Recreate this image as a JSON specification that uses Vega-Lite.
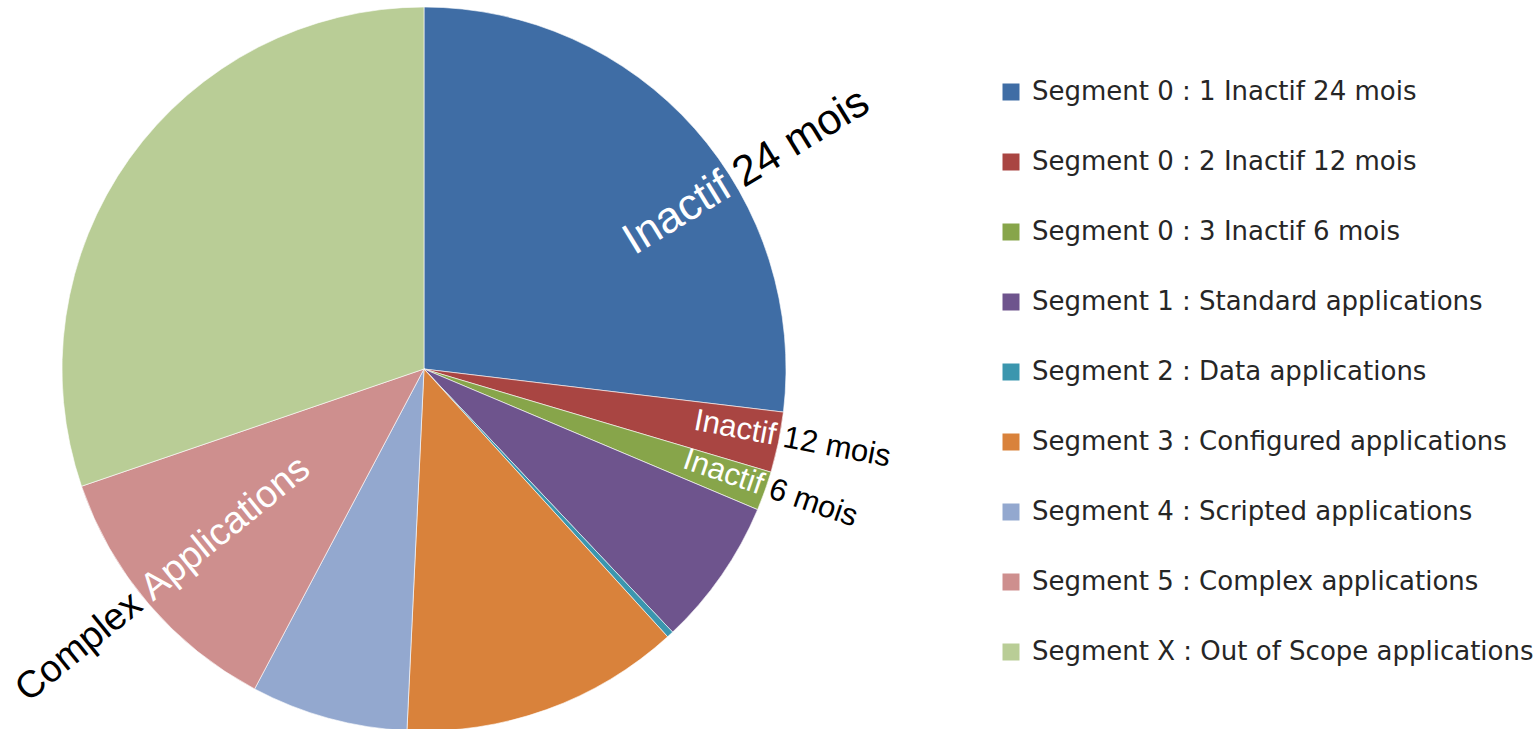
{
  "$schema": "https://vega.github.io/schema/vega-lite/v6.json",
  "width": 848,
  "height": 738,
  "padding": 0,
  "background": "white",
  "config": {"view": {"stroke": null}},
  "layer": [
    {
      "data": {"values": [
        {"segment": "Segment 0 : 1 Inactif 24 mois", "value": 26.9},
        {"segment": "Segment 0 : 2 Inactif 12 mois", "value": 2.7},
        {"segment": "Segment 0 : 3 Inactif 6 mois", "value": 1.75},
        {"segment": "Segment 1 : Standard applications", "value": 6.6},
        {"segment": "Segment 2 : Data applications", "value": 0.3},
        {"segment": "Segment 3 : Configured applications", "value": 12.5},
        {"segment": "Segment 4 : Scripted applications", "value": 7.0},
        {"segment": "Segment 5 : Complex applications", "value": 12.0},
        {"segment": "Segment X : Out of Scope applications", "value": 30.25}
      ]},
      "mark": {"type": "arc", "outerRadius": 362, "stroke": "#ffffff", "strokeWidth": 0.6},
      "encoding": {
        "theta": {"field": "value", "type": "quantitative", "stack": true, "scale": {"domain": [0, 100]}},
        "order": {"field": "segment", "type": "nominal", "sort": "ascending"},
        "color": {
          "field": "segment", "type": "nominal",
          "scale": {
            "domain": ["Segment 0 : 1 Inactif 24 mois", "Segment 0 : 2 Inactif 12 mois", "Segment 0 : 3 Inactif 6 mois", "Segment 1 : Standard applications", "Segment 2 : Data applications", "Segment 3 : Configured applications", "Segment 4 : Scripted applications", "Segment 5 : Complex applications", "Segment X : Out of Scope applications"],
            "range": ["#3F6DA5", "#A94542", "#87A54A", "#6E548D", "#3B96AE", "#D9823B", "#93A8CF", "#CE8F8E", "#B9CD96"]
          },
          "legend": {
            "title": null,
            "orient": "none",
            "legendX": 998,
            "legendY": 79,
            "symbolType": "square",
            "symbolSize": 289,
            "symbolStrokeWidth": 0,
            "labelFont": "DejaVu Sans",
            "labelFontSize": 26,
            "labelColor": "#262626",
            "labelLimit": 800,
            "labelOffset": 8,
            "rowPadding": 44
          }
        }
      }
    },
    {
      "data": {"values": [{"text": "Inactif", "pos": 16.25}]},
      "mark": {"type": "text", "radius": 356, "angle": -31.5, "align": "right", "baseline": "middle", "font": "Liberation Sans", "fontSize": 44, "color": "#ffffff"},
      "encoding": {"theta": {"field": "pos", "type": "quantitative", "stack": null}, "text": {"field": "text"}}
    },
    {
      "data": {"values": [{"text": "24 mois", "pos": 16.25}]},
      "mark": {"type": "text", "radius": 367, "angle": -31.5, "align": "left", "baseline": "middle", "font": "Liberation Sans", "fontSize": 43, "color": "#000000"},
      "encoding": {"theta": {"field": "pos", "type": "quantitative", "stack": null}, "text": {"field": "text"}}
    },
    {
      "data": {"values": [{"text": "Inactif", "pos": 28.0}]},
      "mark": {"type": "text", "radius": 358, "angle": 10.8, "align": "right", "baseline": "middle", "font": "Liberation Sans", "fontSize": 31, "color": "#ffffff"},
      "encoding": {"theta": {"field": "pos", "type": "quantitative", "stack": null}, "text": {"field": "text"}}
    },
    {
      "data": {"values": [{"text": "12 mois", "pos": 28.0}]},
      "mark": {"type": "text", "radius": 366, "angle": 10.8, "align": "left", "baseline": "middle", "font": "Liberation Sans", "fontSize": 31, "color": "#000000"},
      "encoding": {"theta": {"field": "pos", "type": "quantitative", "stack": null}, "text": {"field": "text"}}
    },
    {
      "data": {"values": [{"text": "Inactif", "pos": 30.3}]},
      "mark": {"type": "text", "radius": 358, "angle": 19, "align": "right", "baseline": "middle", "font": "Liberation Sans", "fontSize": 31, "color": "#ffffff"},
      "encoding": {"theta": {"field": "pos", "type": "quantitative", "stack": null}, "text": {"field": "text"}}
    },
    {
      "data": {"values": [{"text": "6 mois", "pos": 30.3}]},
      "mark": {"type": "text", "radius": 366, "angle": 19, "align": "left", "baseline": "middle", "font": "Liberation Sans", "fontSize": 31, "color": "#000000"},
      "encoding": {"theta": {"field": "pos", "type": "quantitative", "stack": null}, "text": {"field": "text"}}
    },
    {
      "data": {"values": [{"text": "Complex", "pos": 64.2}]},
      "mark": {"type": "text", "radius": 368, "angle": -39, "align": "right", "baseline": "middle", "font": "Liberation Sans", "fontSize": 38, "color": "#000000"},
      "encoding": {"theta": {"field": "pos", "type": "quantitative", "stack": null}, "text": {"field": "text"}}
    },
    {
      "data": {"values": [{"text": "Applications", "pos": 64.2}]},
      "mark": {"type": "text", "radius": 357, "angle": -39, "align": "left", "baseline": "middle", "font": "Liberation Sans", "fontSize": 38, "color": "#ffffff"},
      "encoding": {"theta": {"field": "pos", "type": "quantitative", "stack": null}, "text": {"field": "text"}}
    }
  ]
}
